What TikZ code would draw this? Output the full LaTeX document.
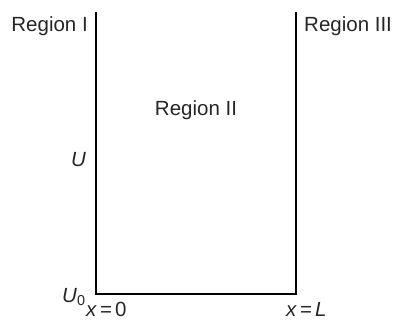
\documentclass[tikz,border=0pt]{standalone}
\usepackage{fontspec}
\setmainfont{Liberation Sans}
\begin{document}
\begin{tikzpicture}[x=1pt,y=-1pt,
  wall/.style={line width=2pt},
  lbl/.style={inner sep=0pt,text=black!85,font=\fontsize{20.5}{24}\selectfont}]
  \useasboundingbox (0,0) rectangle (395,320);
  \coordinate (topleft) at (96,12);
  \coordinate (botleft) at (96,294);
  \coordinate (botright) at (296,294);
  \coordinate (topright) at (296,12);
  \draw[wall] (topleft) -- (botleft) -- (botright) -- (topright);
  \node[lbl,anchor=base east] (regone) at (88,32) {Region I};
  \node[lbl,anchor=base west] (regthree) at (304,32) {Region III};
  \node[lbl,anchor=base] (regtwo) at (196,116) {Region II};
  \node[lbl,anchor=base west] (pot) at (71,167) {\textit{U}};
  \node[lbl,anchor=base west] (potzero) at (62,302) {\textit{U}\textsubscript{0}};
  \node[lbl,anchor=base west] (xzero) at (86,316) {\textit{x}\kern3pt=\kern3pt0};
  \node[lbl,anchor=base west] (xell) at (286,316) {\textit{x}\kern3pt=\kern3pt\textit{L}};
\end{tikzpicture}
\end{document}
